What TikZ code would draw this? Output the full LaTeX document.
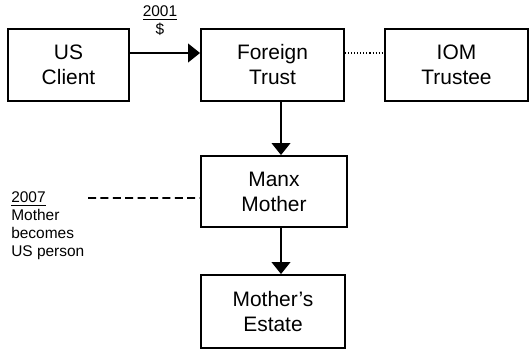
\documentclass[tikz,border=0pt]{standalone}
\usepackage{fontspec}
\setmainfont{Liberation Sans}
\usepackage{tikz}
\usetikzlibrary{arrows.meta}

\begin{document}
\begin{tikzpicture}[x=0.75pt, y=-0.75pt,
  box/.style={draw, line width=1.4pt, align=center, inner sep=0pt,
    font=\fontsize{15.7}{18.75}\selectfont},
  flow/.style={line width=1.4pt, -{Triangle[length=9pt, width=14pt]}},
  note/.style={align=left, inner sep=0pt, font=\fontsize{11.6}{13.5}\selectfont}]

\useasboundingbox (0,0) rectangle (530,350);

% Draw the boxes
\node[box, minimum width=90.75pt, minimum height=54pt] (client) at (68.5,65) {US\\Client};
\node[box, minimum width=107.25pt, minimum height=54pt] (trust) at (272.5,65) {Foreign\\Trust};
\node[box, minimum width=107.25pt, minimum height=54pt] (trustee) at (456.5,65) {IOM\\Trustee};
\node[box, minimum width=109.5pt, minimum height=53.25pt] (mother) at (274,191.5) {Manx\\Mother};
\node[box, minimum width=108pt, minimum height=54.75pt] (estate) at (273,311.5) {Mother's\\Estate};

% Draw the connectors
\draw[flow] ([yshift=9pt]client.east) -- ([yshift=9pt]trust.west);
\draw[line width=0.8pt, dash pattern=on 0.8pt off 1.5pt] ([yshift=9pt]trust.east) -- ([yshift=9pt]trustee.west);
\draw[flow] ([xshift=6.4pt]trust.south) -- ([xshift=5.25pt]mother.north);
\draw[flow] ([xshift=5.25pt]mother.south) -- ([xshift=6pt]estate.north);

% Place the notes
\node[note, align=center] (gift) at (160,21) {\underline{2001}\\\$};
\node[note, anchor=west] (move) at (11,226) {\underline{2007}\\Mother\\becomes\\US person};
\coordinate (dashstart) at (88,198);
\draw[line width=1.4pt, dash pattern=on 6pt off 3.3pt] (dashstart) -- ([yshift=-4.9pt]mother.west);

\end{tikzpicture}
\end{document}
